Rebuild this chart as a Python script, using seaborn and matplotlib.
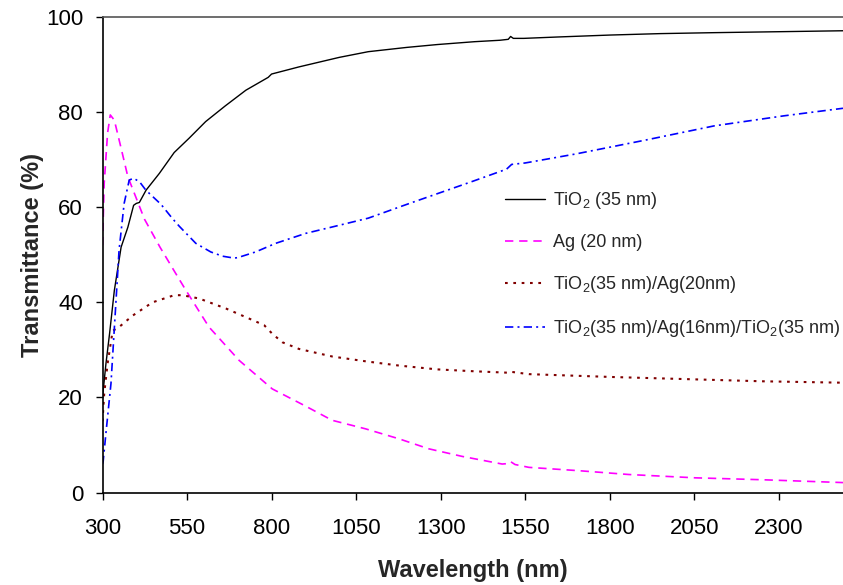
import matplotlib
matplotlib.use("Agg")
import matplotlib.pyplot as plt
import seaborn as sns
import pandas as pd

# wavelength (nm) / transmittance (%)
tio2_wl = [300, 310, 321, 335, 355, 375, 392, 400, 409, 429, 468, 512, 556, 605, 663, 724,
           790, 800, 881, 1000, 1086, 1200, 1290, 1400, 1475, 1500, 1507, 1515, 1546, 1650,
           1802, 1950, 2109, 2300, 2490]
tio2_t = [20, 27, 33.5, 42.5, 51.6, 55.8, 60.4, 60.8, 61, 63.6, 67.1, 71.5, 74.5, 78, 81.3, 84.6,
          87.3, 88, 89.5, 91.5, 92.7, 93.6, 94.2, 94.8, 95.1, 95.3, 95.9, 95.5, 95.5, 95.8,
          96.2, 96.5, 96.7, 96.9, 97.1]

ag_wl = [300, 305, 315, 323, 335, 354, 375, 424, 470, 512, 546, 615, 704, 802, 900, 979,
         1078, 1177, 1265, 1364, 1482, 1500, 1507, 1520, 1561, 1709, 1856, 2053, 2250, 2490]
ag_t = [52, 65, 75.6, 79.4, 78.3, 72.7, 66.4, 57.5, 51.6, 46.6, 42.6, 34.8, 27.8, 21.8, 18.2, 15.2,
        13.4, 11.3, 9.2, 7.6, 6.0, 6.1, 6.5, 5.9, 5.3, 4.6, 3.8, 3.1, 2.7, 2.1]

tio2ag_wl = [300, 305, 315, 330, 349, 374, 389, 448, 512, 536, 586, 665, 733, 778, 802, 832, 881,
             980, 1078, 1177, 1290, 1400, 1500, 1507, 1561, 1807, 2053, 2250, 2490]
tio2ag_t = [15, 20.8, 27.1, 34, 34.8, 36.3, 37.2, 40, 41.5, 41.5, 40.8, 38.7, 36.6, 35.2, 33.4, 31.6,
            30.2, 28.6, 27.6, 26.7, 25.9, 25.5, 25.2, 25.4, 24.9, 24.3, 23.8, 23.4, 23.1]

tat_wl = [300, 302, 310, 325, 337, 349, 364, 379, 392, 410, 428, 473, 507, 527, 576, 620, 655,
          689, 700, 753, 812, 901, 1000, 1086, 1200, 1393, 1495, 1510, 1550, 1700, 1905, 2109,
          2314, 2490]
tat_t = [6, 6.6, 12.4, 22.9, 36.9, 51, 60.8, 65.7, 66.1, 65.3, 63.6, 60.6, 57.6, 56, 52.4, 50.6,
         49.7, 49.3, 49.4, 50.6, 52.4, 54.5, 56.2, 57.7, 60.6, 65.4, 68, 69, 69.3, 71.2, 74.1,
         77.1, 79.2, 80.8]

labels = ["TiO$_2$ (35 nm)", "Ag (20 nm)", "TiO$_2$(35 nm)/Ag(20nm)",
          "TiO$_2$(35 nm)/Ag(16nm)/TiO$_2$(35 nm)"]

sns.set_style("ticks")
plt.rcParams["font.family"] = ["Liberation Sans", "DejaVu Sans"]
plt.rcParams["mathtext.fontset"] = "custom"
plt.rcParams["mathtext.rm"] = "Liberation Sans"
plt.rcParams["mathtext.it"] = "Liberation Sans:italic"
plt.rcParams["mathtext.default"] = "regular"

fig = plt.figure(figsize=(8.43, 5.85), dpi=100)
ax = fig.add_axes([0.1216, 0.158, 0.8784, 0.813])

series = [
    (tio2_wl, tio2_t, labels[0], "black", "-", 1.0),
    (ag_wl, ag_t, labels[1], "#FF00FF", (0, (5, 3.5)), 1.2),
    (tio2ag_wl, tio2ag_t, labels[2], "#800000", (0, (1.3, 2.7)), 1.5),
    (tat_wl, tat_t, labels[3], "#0000FF", (0, (5, 2.5, 1.2, 2.5)), 1.2),
]
for wl, t, lab, col, ls, lw in series:
    df = pd.DataFrame({"wl": wl, "T": t})
    sns.lineplot(data=df, x="wl", y="T", ax=ax, color=col, linestyle=ls, linewidth=lw,
                 label=lab, estimator=None, sort=False)

ax.set_xlim(300, 2490)
ax.set_ylim(0, 100)
ax.set_xticks(range(300, 2301, 250))
ax.set_yticks(range(0, 101, 20))
ax.tick_params(axis="x", length=5, width=1, pad=13, labelsize=16, colors="black")
ax.tick_params(axis="y", length=5, width=1, pad=9, labelsize=16, colors="black")
for s in ["left", "bottom", "top"]:
    ax.spines[s].set_color("black")
    ax.spines[s].set_linewidth(1.2)
ax.spines["top"].set_color("#555555")
ax.spines["right"].set_visible(False)

ax.set_xlabel("Wavelength (nm)", fontsize=17, fontweight="bold", labelpad=15)
ax.set_ylabel("Transmittance (%)", fontsize=17, fontweight="bold", labelpad=1)

ax.legend(loc="upper left", bbox_to_anchor=(0.580, 0.703), bbox_transform=fig.transFigure,
          frameon=False, fontsize=13, handlelength=2.2, handletextpad=0.45, labelspacing=1.28)

fig.savefig("out.png", dpi=100)
